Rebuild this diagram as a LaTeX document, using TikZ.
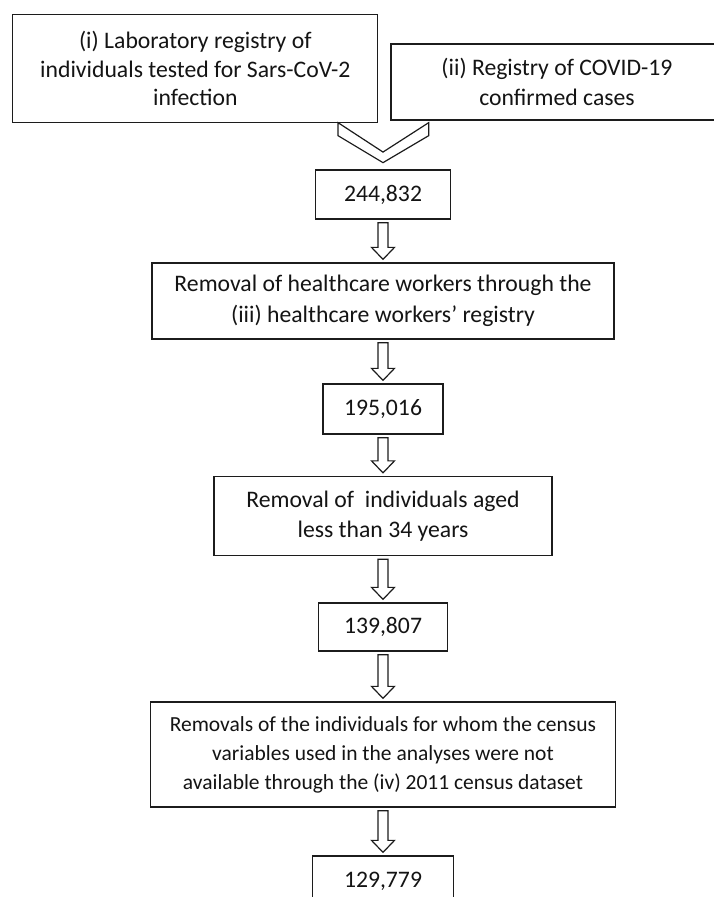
\documentclass[tikz,border=0pt]{standalone}
\usepackage{fontspec}
\setmainfont{Carlito}
\usepackage{tikz}
\usetikzlibrary{calc,positioning}
\definecolor{linec}{HTML}{1C1C1C}
\definecolor{textc}{HTML}{141414}
\tikzset{
  bx/.style={draw=linec,line width=1.3pt,fill=white,align=center,text=textc,inner sep=0pt,font=\fontsize{23.7}{29.5}\selectfont},
  chev/.style={draw=linec,line width=1.2pt,line join=miter},
  har/.style={draw=linec,line width=1.2pt,line join=miter,
    to path={let \p1=(\tikztostart),\p2=(\tikztotarget) in
      (\x1-5pt,\y1-3pt) -- (\x1-5pt,\y2+15pt) -- (\x1-11.5pt,\y2+15pt) -- (\x1,\y2+3pt)
      -- (\x1+11.5pt,\y2+15pt) -- (\x1+5pt,\y2+15pt) -- (\x1+5pt,\y1-3pt) -- cycle}}
}
\begin{document}
\begin{tikzpicture}[x=1pt,y=-1pt]
\useasboundingbox (0,0) rectangle (714,897);
\clip (0,0) rectangle (714,897);
\node[bx,font=\fontsize{23.7}{28.5}\selectfont,minimum width=365pt,minimum height=108pt] (src1) at (195.3,68.5) {(i) Laboratory registry of\\individuals tested for Sars-CoV-2\\infection};
\node[bx,font=\fontsize{23.7}{30}\selectfont,minimum width=332pt,minimum height=76pt] (src2) at (557,82) {(ii) Registry of COVID-19\\confirmed cases};
\node[bx,minimum width=135pt,minimum height=49pt] (n1) at (383,194.5) {244,832};
\node[bx,font=\fontsize{23.7}{31}\selectfont,minimum width=462pt,minimum height=76pt] (rm1) at (383,301) {Removal of healthcare workers through the\\(iii) healthcare workers’ registry};
\node[bx,minimum width=120pt,minimum height=50pt] (n2) at (383,409) {195,016};
\node[bx,minimum width=338pt,minimum height=79pt] (rm2) at (383,516) {Removal of~ individuals aged\\less than 34 years};
\node[bx,minimum width=129pt,minimum height=48pt] (n3) at (383,627) {139,807};
\node[bx,font=\fontsize{21.5}{29}\selectfont,minimum width=465pt,minimum height=105pt] (rm3) at (383,754.5) {Removals of the individuals for whom the census\\variables used in the analyses were not\\available through the (iv) 2011 census dataset};
\node[bx,minimum width=141pt,minimum height=50pt] (n4) at (383,881) {129,779};
\draw[chev] ([yshift=6.7pt]n1.north) coordinate (tp) -- ([shift={(-45pt,27pt)}]tp) -- ([shift={(-45pt,40pt)}]tp)
  -- ([shift={(0pt,10.6pt)}]tp) -- ([shift={(45.7pt,40pt)}]tp) -- ([shift={(45.7pt,27pt)}]tp) -- cycle;
\draw[har] (n1.south) to (rm1.north);
\draw[har] (rm1.south) to (n2.north);
\draw[har] (n2.south) to (rm2.north);
\draw[har] (rm2.south) to (n3.north);
\draw[har] (n3.south) to (rm3.north);
\draw[har] (rm3.south) to (n4.north);
\end{tikzpicture}
\end{document}
